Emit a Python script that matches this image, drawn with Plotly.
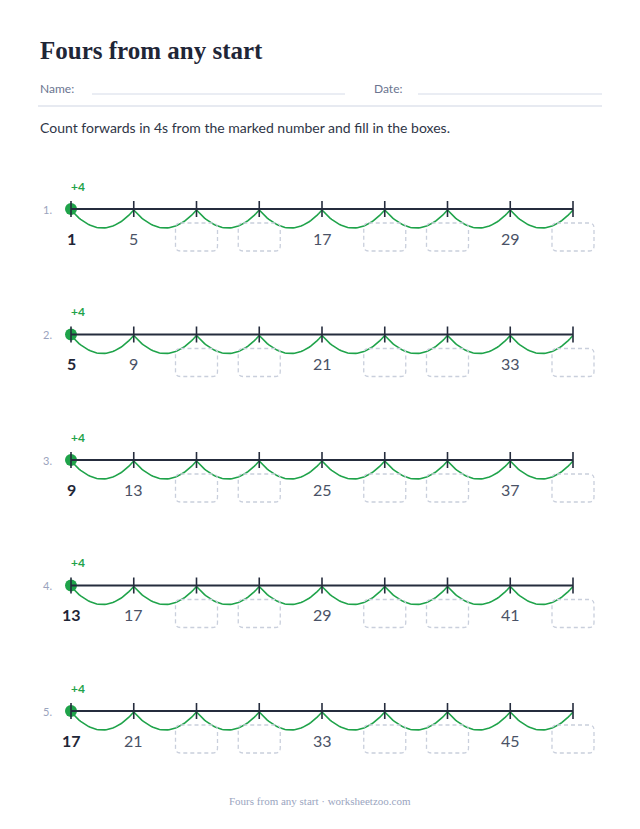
import plotly.graph_objects as go
import numpy as np

starts = [1, 5, 9, 13, 17]
step = 4
n_points = 9
shown_idx = [0, 1, 4, 7]
box_idx = [2, 3, 5, 6, 8]

title = "Fours from any start"
instr = "Count forwards in 4s from the marked number and fill in the boxes."
footer = "Fours from any start · worksheetzoo.com"

W, H = 640, 829
M = 8
x0, x1 = 71, 573
row_y0, row_gap = 209, 125.5
xs = np.linspace(x0, x1, n_points)
dark = "#252c3d"; green = "#1fa34a"; grey = "#9aa3bd"; boxc = "#c9cfdc"

fig = go.Figure()
shapes = []
ann = []
ann.append(dict(x=38, y=50, text=f"<b>{title}</b>", xanchor="left", yanchor="middle",
                font=dict(family="Liberation Serif", size=25, color="#1f2637")))
ann.append(dict(x=38, y=88, text="Name:", xanchor="left", yanchor="middle",
                font=dict(family="Lato", size=12, color="#6b7590")))
ann.append(dict(x=372, y=88, text="Date:", xanchor="left", yanchor="middle",
                font=dict(family="Lato", size=12, color="#6b7590")))
shapes += [dict(type="line", x0=92, x1=345, y0=94, y1=94, line=dict(color="#d5dbe8", width=1)),
           dict(type="line", x0=418, x1=602, y0=94, y1=94, line=dict(color="#d5dbe8", width=1)),
           dict(type="line", x0=38, x1=602, y0=106, y1=106, line=dict(color="#cfd6e4", width=1.2))]
ann.append(dict(x=38, y=127, text=instr, xanchor="left", yanchor="middle",
                font=dict(family="Lato", size=14, color="#2f3647")))
ann.append(dict(x=320, y=801, text=footer, xanchor="center", yanchor="middle",
                font=dict(family="Liberation Serif", size=11, color="#9aa5c0")))

for r, s in enumerate(starts):
    y = row_y0 + r * row_gap
    vals = [s + step * i for i in range(n_points)]
    shapes.append(dict(type="line", x0=x0, x1=x1, y0=y, y1=y, line=dict(color=dark, width=2.2)))
    for x in xs:
        shapes.append(dict(type="line", x0=x, x1=x, y0=y - 8, y1=y + 8, line=dict(color=dark, width=1.6)))
    ax, ay = [], []
    for i in range(n_points - 1):
        t = np.linspace(0, 1, 40)
        ax += list(xs[i] + (xs[i + 1] - xs[i]) * t) + [None]
        ay += list(y + 1 + 72 * t * (1 - t)) + [None]
    fig.add_trace(go.Scatter(x=ax, y=ay, mode="lines", line=dict(color=green, width=1.6),
                             hoverinfo="skip", showlegend=False))
    fig.add_trace(go.Scatter(x=[xs[0]], y=[y], mode="markers", marker=dict(color=green, size=12),
                             hoverinfo="skip", showlegend=False))
    ann.append(dict(x=78, y=y - 23, text="<b>+4</b>", xanchor="center", yanchor="middle",
                    font=dict(family="Lato", size=12, color=green)))
    ann.append(dict(x=47, y=y, text=f"{r+1}.", xanchor="center", yanchor="middle",
                    font=dict(family="Lato", size=11, color=grey)))
    for i in shown_idx:
        txt = f"<b>{vals[i]}</b>" if i == 0 else str(vals[i])
        ann.append(dict(x=xs[i], y=y + 29, text=txt, xanchor="center", yanchor="middle",
                        font=dict(family="Lato", size=16, color="#1f2637" if i == 0 else "#4a5266")))
    for i in box_idx:
        bx0, bx1, by0, by1, rr = xs[i] - 21, xs[i] + 21, y + 14, y + 42, 5
        path = (f"M{bx0+rr},{by0} L{bx1-rr},{by0} Q{bx1},{by0} {bx1},{by0+rr} L{bx1},{by1-rr} "
                f"Q{bx1},{by1} {bx1-rr},{by1} L{bx0+rr},{by1} Q{bx0},{by1} {bx0},{by1-rr} "
                f"L{bx0},{by0+rr} Q{bx0},{by0} {bx0+rr},{by0} Z")
        shapes.append(dict(type="path", path=path, line=dict(color=boxc, width=1.3, dash="4px,3px")))

for a in ann:
    a["showarrow"] = False
fig.update_layout(width=W - 2 * M, height=H - 2 * M, margin=dict(l=0, r=0, t=0, b=0),
                  paper_bgcolor="white", plot_bgcolor="white",
                  xaxis=dict(range=[M, W - M], visible=False, fixedrange=True),
                  yaxis=dict(range=[H - M, M], visible=False, fixedrange=True),
                  shapes=shapes, annotations=ann)
fig.write_html("out.html", config={"displayModeBar": False})
